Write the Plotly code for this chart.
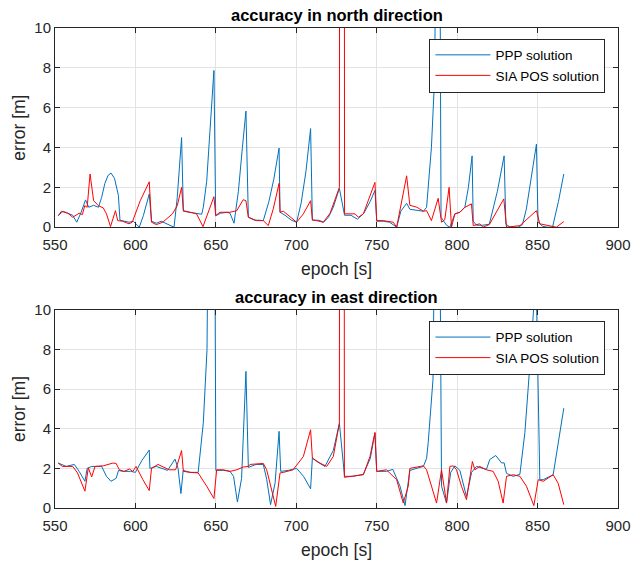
import plotly.graph_objects as go

# ---------------- data: north direction ----------------
north_ppp_x = [552, 555, 558, 561, 563.5, 566, 569, 571, 574, 577, 579, 581, 583, 584.8, 587, 589.4, 590.4,
               593, 596, 598.7, 602.4, 605, 608.6, 610, 613, 616, 620, 624, 626, 628.7, 629.8, 633, 637,
               641.2, 642.2, 644.3, 646.3, 648.4, 648.8, 649.9, 653, 657, 658.8, 661.3, 664, 666.5, 668.7,
               670.2, 674, 677, 679.5, 683, 686, 689.3, 689.9, 693, 697, 700.2, 703, 706, 708.9, 710, 714,
               717, 720, 723, 726.8, 730, 734, 738, 742, 746, 748.9, 750, 754, 758, 762.4, 765, 768.6,
               770.6, 775, 779, 781, 784, 786, 788.5, 790, 793.4, 795.5, 798.6, 801.7, 804.8, 807, 809.3,
               810, 812, 816, 820, 825, 829.2, 830.3, 833, 838, 840.6, 843, 846, 849.3, 850.3, 853, 856,
               859.3, 863, 866.3]
north_ppp_y = [0.58, 0.8, 0.7, 0.6, 0.25, 0.7, 1.37, 1.0, 1.1, 1.0, 1.5, 2.2, 2.6, 2.72, 2.45, 1.6, 0.35,
               0.3, 0.25, 0.3, 0.0, 0.6, 1.67, 0.3, 0.2, 0.3, 0.15, 0.0, 1.5, 4.5, 0.8, 0.75, 0.7,
               0.65, 1.0, 2.3, 4.8, 7.3, 7.87, 0.58, 0.7, 0.75, 0.7, 0.2, 1.8, 4.0, 5.83,
               0.5, 0.35, 0.35, 0.33, 1.3, 2.4, 3.97, 0.75, 0.6, 0.35, 0.25, 1.2, 2.8, 4.95, 0.35, 0.35,
               0.25, 0.5, 1.0, 1.95, 0.6, 0.6, 0.4, 0.7, 1.3, 1.85, 0.3, 0.3, 0.25, 0.0, 0.8, 1.2,
               0.9, 0.85, 0.8, 1.0, 4.0, 7.5, 30, 0.5, 0.1, 0.0, 0.67, 0.75, 1.0, 2.0, 3.58,
               0.3, 0.1, 0.1, 0.15, 1.8, 3.58, 0.15, 0.0, 0.0, 0.13, 0.9, 2.4, 4.17, 0.25, 0.05, 0.0,
               0.0, 1.3, 2.67]

north_sia_x = [552, 554, 558, 561, 565, 567, 568.5, 570, 571.8, 574, 577, 580, 582, 584.5, 587.6, 589, 592,
               596, 598, 603, 608.6, 610, 613, 617, 623, 626, 628.7, 629.8, 634, 638, 642, 648.8, 649.9,
               652.5, 658.8, 663, 667, 668.7, 670.2, 675.4, 679.5, 682.6, 685.7, 689.3, 689.9, 692, 700.2,
               704.4, 708.9, 710, 712.7, 716.8, 721, 726.8, 727.3, 729.6, 730, 736.5, 738.6, 741.7, 748.9,
               750, 754, 760.3, 762.4, 768.6, 770.6, 775, 779, 781, 784, 788.2, 790.3, 792.3, 795, 796.5,
               798.6, 801.7, 804.8, 808.9, 810, 814, 816, 820, 829, 830.7, 839, 849.3, 851.4, 857.6,
               861.7, 866.3]
north_sia_y = [0.58, 0.8, 0.7, 0.5, 0.7, 0.63, 1.08, 1.0, 2.67, 1.33, 1.08, 0.97, 0.67, 0.03, 0.83, 0.33, 0.3,
               0.17, 0.25, 1.33, 2.28, 0.25, 0.13, 0.25, 0.67, 1.08, 2.0, 0.83, 0.75, 0.67, 0.03, 1.53, 0.58,
               0.75, 0.75, 0.83, 1.38, 1.33, 0.5, 0.33, 0.33, 0.08, 0.92, 2.2, 0.75, 0.8, 0.25,
               0.67, 1.33, 0.37, 0.33, 0.25, 0.7, 2.0, 60, 60, 0.67, 0.67, 0.5, 0.67, 2.25,
               0.33, 0.33, 0.25, 0.0, 2.58, 1.1, 1.0, 0.8, 0.83, 0.33, 1.45, 0.25, 0.37, 2.0, 0.0,
               0.67, 0.75, 1.0, 1.17, 0.08, 0.17, 0.0, 0.13, 1.42, 0.0, 0.08, 0.83, 0.17, 0.08,
               0.0, 0.28]

# ---------------- data: east direction ----------------
east_ppp_x = [552, 557, 562, 565, 568.6, 570, 572.8, 575, 579, 582, 584.8, 588, 589.5, 592, 597, 600, 604,
              608.6, 609, 613, 620, 624.6, 626.5, 628.3, 629.7, 634, 639, 642.2, 644.5, 648, 650, 655,
              658.8, 661, 663.4, 666, 668.7, 670.2, 675, 679.5, 681.6, 684, 686.8, 689.3, 690.3, 695,
              700.2, 704.5, 708.9, 710, 712.7, 717.8, 723, 726.8, 730, 735, 741.7, 746, 748.9, 750, 756,
              760, 764.5, 767.6, 770.6, 779, 781, 782, 785, 788, 790.3, 793.4, 796, 798.6, 801.7, 805.8,
              809, 812, 818.2, 820.3, 824, 827.6, 829.2, 830.7, 834.8, 839, 842.1, 846.2, 849, 851.4,
              853.5, 859.7, 863.8, 866.3]
east_ppp_y = [2.27, 2.1, 2.2, 1.85, 1.35, 2.0, 2.1, 2.1, 2.1, 1.6, 1.35, 1.5, 1.9, 1.85, 1.85, 1.8, 2.4,
              2.93, 2.0, 2.1, 1.9, 2.47, 2.0, 0.73, 1.9, 1.8, 1.8, 4.3, 8.0, 40, 1.9, 1.9,
              1.85, 1.6, 0.3, 1.5, 6.9, 2.05, 2.2, 2.2, 1.45, 0.17, 1.25, 3.87, 1.85, 1.9,
              2.0, 1.6, 0.97, 2.52, 2.35, 2.1, 2.9, 4.28, 1.6, 1.6, 1.7, 2.5, 3.78, 1.85, 1.85,
              1.95, 1.1, 0.12, 1.9, 2.1, 2.5, 3.3, 6.5, 30, 1.1, 0.25, 1.8, 2.13, 1.9, 0.58,
              1.8, 2.1, 1.95, 2.45, 2.65, 2.28, 2.28, 1.75, 1.6, 1.7, 3.8, 8.3, 12, 1.43,
              1.43, 1.68, 3.8, 5.04]

east_sia_x = [552, 554.5, 561, 564, 568.6, 570.7, 572.8, 574.9, 580, 586, 588, 590, 593, 596.3, 598.4, 600.4,
              604.5, 608.6, 610, 614, 621, 625, 628.7, 629.8, 634, 639, 644.3, 648.8, 650.5, 654.6, 658.8,
              663, 667, 670.2, 671.2, 679.5, 681.6, 684.7, 687.2, 689.9, 692, 698, 704.4, 708.9, 710,
              714.7, 718.9, 723, 726.8, 727.3, 729.6, 729.9, 735.5, 741.7, 745.8, 748.9, 750, 756, 762.4,
              766.5, 769.6, 770.6, 777, 779, 781, 784, 787.2, 790.3, 793.4, 795.5, 797.6, 799.6, 802.7,
              805.8, 807.9, 809.5, 811, 814, 818.2, 822.4, 825.5, 828.6, 830.7, 834.8, 839, 843.1, 847.7,
              850.4, 853.5, 859.7, 862.8, 866.3]
east_sia_y = [2.27, 2.1, 2.1, 1.77, 0.85, 2.03, 1.57, 2.1, 2.13, 2.27, 2.25, 1.93, 1.85, 1.97, 1.85, 2.1,
              1.45, 0.88, 2.0, 2.2, 1.93, 1.93, 2.9, 1.85, 1.8, 1.77, 1.1, 0.48, 1.93, 1.93, 1.85,
              1.93, 2.07, 2.1, 2.2, 2.25, 1.93, 0.92, 0.08, 1.77, 1.8, 1.93, 2.6, 3.95, 2.52,
              2.27, 2.1, 2.6, 4.28, 60, 60, 1.55, 1.6, 1.68, 2.6, 3.82, 1.85, 1.93, 1.43,
              0.25, 1.1, 2.0, 2.1, 2.13, 1.93, 1.1, 0.25, 1.93, 0.25, 2.1, 2.13, 1.93, 1.1,
              0.42, 1.43, 2.35, 1.93, 2.1, 1.93, 1.85, 1.35, 0.25, 1.6, 1.68, 1.6, 1.1, 0.12,
              1.43, 1.35, 1.68, 1.25, 0.17]

titles = ["accuracy in north direction", "accuracy in east direction"]
series_names = ["PPP solution", "SIA POS solution"]
x_ticks = [550, 600, 650, 700, 750, 800, 850, 900]
y_ticks = [0, 2, 4, 6, 8, 10]

BLUE = "#0072BD"
RED = "#FF0000"
AXC = "#262626"
FONT = "Arial, Liberation Sans, Helvetica, sans-serif"

fig = go.Figure()
fig.add_trace(go.Scatter(x=north_ppp_x, y=north_ppp_y, mode="lines", name=series_names[0],
                         line=dict(color=BLUE, width=1), xaxis="x", yaxis="y", legend="legend"))
fig.add_trace(go.Scatter(x=north_sia_x, y=north_sia_y, mode="lines", name=series_names[1],
                         line=dict(color=RED, width=1), xaxis="x", yaxis="y", legend="legend"))
fig.add_trace(go.Scatter(x=east_ppp_x, y=east_ppp_y, mode="lines", name=series_names[0],
                         line=dict(color=BLUE, width=1), xaxis="x2", yaxis="y2", legend="legend2"))
fig.add_trace(go.Scatter(x=east_sia_x, y=east_sia_y, mode="lines", name=series_names[1],
                         line=dict(color=RED, width=1), xaxis="x2", yaxis="y2", legend="legend2"))

def xax(anchor):
    return dict(range=[550, 900], tickvals=x_ticks, ticks="inside", ticklen=5, mirror="ticks",
                showline=True, linecolor=AXC, linewidth=1, tickcolor=AXC, showgrid=True,
                gridcolor="#e3e3e3", gridwidth=1, zeroline=False, domain=[0, 1], anchor=anchor,
                automargin=False, ticklabelstandoff=4,
                tickfont=dict(size=15, color=AXC, family=FONT),
                title=dict(text="epoch [s]", font=dict(size=17.5, color=AXC, family=FONT), standoff=10))

def yax(dom, anchor):
    return dict(range=[0, 10], tickvals=y_ticks, ticks="inside", ticklen=5, mirror="ticks",
                showline=True, linecolor=AXC, linewidth=1, tickcolor=AXC, showgrid=True,
                gridcolor="#e3e3e3", gridwidth=1, zeroline=False, domain=dom, anchor=anchor,
                automargin=False,
                tickfont=dict(size=15, color=AXC, family=FONT),
                title=dict(text="error [m]", font=dict(size=17.5, color=AXC, family=FONT), standoff=4))

legend_common = dict(xanchor="left", yanchor="top", bgcolor="white", bordercolor=AXC, borderwidth=1,
                     font=dict(size=13.5, color="black", family=FONT), tracegroupgap=0, itemwidth=55)

fig.update_layout(
    width=634, height=563,
    margin=dict(l=55, r=16, t=28, b=55, autoexpand=False),
    paper_bgcolor="white", plot_bgcolor="white",
    font=dict(family=FONT, color=AXC),
    xaxis=xax("y"), yaxis=yax([0.585, 1.0], "x"),
    xaxis2=xax("y2"), yaxis2=yax([0.0, 0.4125], "x2"),
    legend=dict(x=0.665, y=0.978, **legend_common),
    legend2=dict(x=0.665, y=0.39, **legend_common),
    showlegend=True,
    annotations=[
        dict(text="<b>" + titles[0] + "</b>", x=0.5, y=1.0, xref="paper", yref="paper",
             xanchor="center", yanchor="bottom", yshift=2, showarrow=False,
             font=dict(size=16.5, color="black", family=FONT)),
        dict(text="<b>" + titles[1] + "</b>", x=0.5, y=0.4125, xref="paper", yref="paper",
             xanchor="center", yanchor="bottom", yshift=2, showarrow=False,
             font=dict(size=16.5, color="black", family=FONT)),
    ],
)

fig.write_html("out.html", config={"displayModeBar": False},
               post_script="document.body.style.margin='0';document.body.style.overflow='hidden';")
